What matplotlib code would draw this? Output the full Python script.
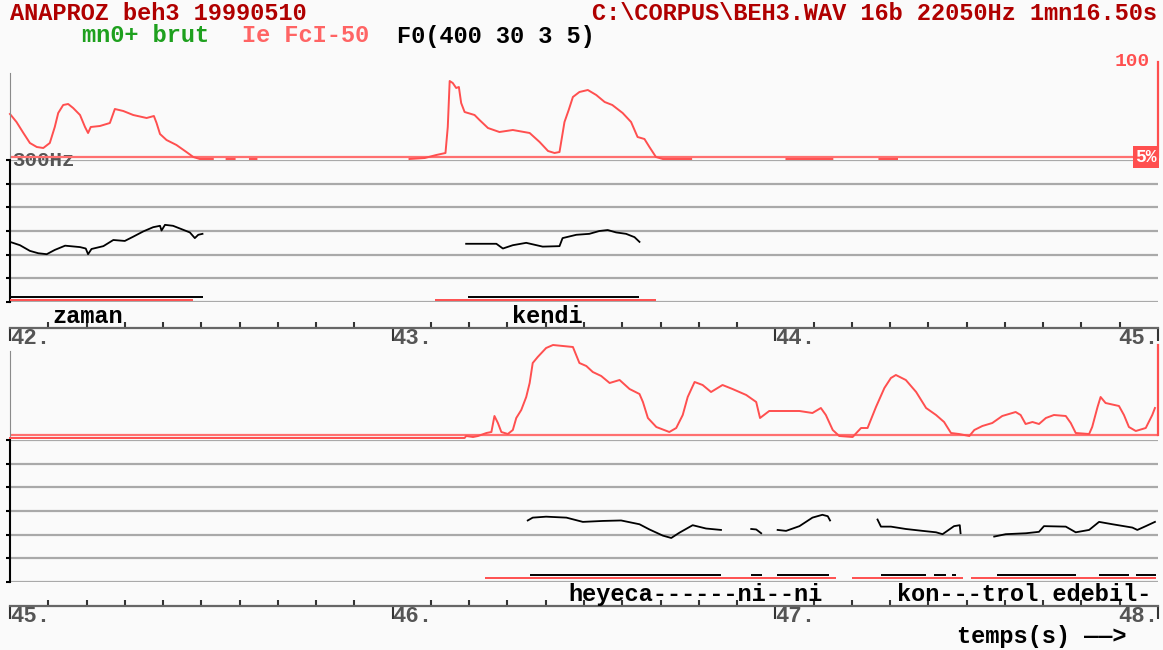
import numpy as np
import matplotlib.pyplot as plt
from matplotlib.transforms import blended_transform_factory
from matplotlib.ticker import MultipleLocator

W, H = 1163, 650
nan = np.nan

# ---- data ----
# intensity (%), strip 1 : 42-45 s
top_int_t = [42.000, 42.017, 42.035, 42.052, 42.070, 42.087, 42.104, 42.117, 42.126, 42.139,
             42.152, 42.165, 42.183, 42.196, 42.204, 42.211, 42.235, 42.261, 42.274, 42.296,
             42.322, 42.357, 42.376, 42.383, 42.392, 42.409, 42.435, 42.461, 42.479, 42.496,
             42.530, nan, 42.566, 42.587, nan, 42.627, 42.644, nan,
             43.044, 43.084, 43.114, 43.138, 43.144, 43.149, 43.157, 43.166, 43.173, 43.179,
             43.188, 43.214, 43.227, 43.249, 43.279, 43.314, 43.358, 43.384, 43.406, 43.423,
             43.436, 43.449, 43.460, 43.471, 43.488, 43.510, 43.532, 43.554, 43.574, 43.601,
             43.623, 43.640, 43.658, 43.671, 43.688, 43.706, 43.741, 43.780,
             nan, 44.029, 44.149, nan, 44.272, 44.318]
top_int_v = [48, 40, 29, 19, 15, 14, 19, 35, 49, 57,
             58, 54, 47, 35, 29, 35, 36, 39, 53, 51,
             47, 44, 46, 39, 28, 22, 17, 10, 5, 3,
             3, nan, 3, 3, nan, 3, 3, nan,
             3, 4, 7, 9, 35, 81, 79, 74, 75, 59,
             50, 47, 42, 34, 30, 32, 29, 20, 11, 9,
             10, 40, 52, 65, 70, 72, 67, 60, 57, 49,
             40, 25, 23, 15, 5, 3, 3, 3,
             nan, 3, 3, nan, 3, 3]

# F0 (Hz), strip 1
top_f0_t = [42.000, 42.026, 42.052, 42.074, 42.096, 42.117, 42.144, 42.183, 42.198, 42.204,
            42.213, 42.244, 42.270, 42.300, 42.322, 42.348, 42.374, 42.392, 42.396, 42.405,
            42.426, 42.448, 42.470, 42.483, 42.492, 42.503, nan,
            43.192, 43.271, 43.288, 43.314, 43.349, 43.392, 43.436, 43.444, 43.480, 43.514,
            43.540, 43.562, 43.584, 43.610, 43.632, 43.645]
top_f0_v = [127, 120, 108, 103, 101, 110, 119, 116, 113, 101,
            112, 118, 131, 129, 138, 149, 158, 161, 151, 163,
            161, 154, 147, 135, 142, 144, nan,
            123, 123, 113, 120, 125, 117, 118, 135, 142, 144,
            150, 152, 147, 144, 137, 127]

# intensity (%), strip 2 : 45-48 s
bot_int_t = [45.000, 46.188, 46.192, 46.210, 46.223, 46.245, 46.258, 46.266, 46.275, 46.284,
             46.301, 46.314, 46.323, 46.336, 46.349, 46.358, 46.366, 46.379, 46.401, 46.419,
             46.445, 46.471, 46.488, 46.506, 46.523, 46.545, 46.567, 46.593, 46.619, 46.645,
             46.654, 46.667, 46.689, 46.723, 46.741, 46.758, 46.771, 46.789, 46.810, 46.832,
             46.862, 46.888, 46.924, 46.950, 46.960, 46.984, 47.063, 47.097, 47.119, 47.132,
             47.150, 47.167, 47.202, 47.224, 47.241, 47.263, 47.285, 47.302, 47.315, 47.341,
             47.368, 47.394, 47.420, 47.441, 47.459, 47.480, 47.507, 47.520, 47.541, 47.567,
             47.593, 47.628, 47.641, 47.654, 47.672, 47.689, 47.707, 47.728, 47.759, 47.772,
             47.785, 47.820, 47.828, 47.842, 47.850, 47.863, 47.898, 47.911, 47.924, 47.942,
             47.968, 47.985, 47.992]
bot_int_v = [2, 2, 4, 3, 4, 7, 8, 24, 17, 8,
             6, 10, 22, 30, 43, 57, 77, 83, 92, 95,
             94, 93, 77, 74, 68, 64, 57, 60, 51, 46,
             38, 22, 13, 8, 12, 25, 43, 58, 55, 48,
             55, 51, 45, 38, 22, 29, 29, 27, 32, 25,
             10, 4, 3, 12, 12, 33, 52, 62, 65, 60,
             48, 32, 25, 18, 7, 6, 4, 10, 14, 17,
             24, 28, 25, 16, 18, 16, 22, 25, 24, 17,
             7, 6, 13, 33, 43, 37, 34, 25, 13, 9,
             12, 25, 32]

# F0 (Hz), strip 2
bot_f0_t = [46.353, 46.366, 46.401, 46.454, 46.497, 46.549, 46.597, 46.645, 46.671, 46.706,
            46.728, 46.749, 46.784, 46.819, 46.858, nan,
            46.937, 46.950, 46.963, nan,
            47.006, 47.028, 47.063, 47.080, 47.097, 47.123, 47.137, 47.143, nan,
            47.267, 47.276, 47.302, 47.341, 47.385, 47.420, 47.437, 47.467, 47.482, 47.484, nan,
            47.572, 47.602, 47.655, 47.689, 47.702, 47.759, 47.785, 47.820, 47.846, 47.881,
            47.933, 47.946, 47.968, 47.992]
bot_f0_v = [130, 136, 138, 136, 127, 129, 130, 122, 111, 98,
            93, 104, 120, 113, 110, nan,
            112, 111, 103, nan,
            110, 108, 118, 127, 136, 142, 139, 130, nan,
            132, 117, 117, 112, 108, 105, 101, 118, 120, 103, nan,
            96, 101, 103, 106, 118, 117, 105, 110, 127, 122,
            115, 110, 118, 127]

# segmentation tiers (start, end in s)
top_blk_start = [42.000, 43.198]
top_blk_end = [42.504, 43.645]
top_red_start = [42.000, 43.110]
top_red_end = [42.478, 43.687]
bot_blk_start = [46.358, 46.937, 47.005, 47.277, 47.415, 47.462, 47.580, 47.846, 47.943]
bot_blk_end = [46.859, 46.966, 47.141, 47.394, 47.446, 47.473, 47.786, 47.924, 47.995]
bot_red_start = [46.240, 47.201, 47.512]
bot_red_end = [47.159, 47.491, 47.995]

top_words = ['zaman', 'kendi']
top_word_t = [42.110, 43.311]
bot_words = ['heyeca------ni--ni', 'kon---trol edebil-']
bot_word_t = [46.460, 47.319]

f0_grid = [0, 50, 100, 150, 200, 250, 300]

# ---- style ----
plt.rcParams['font.family'] = ['Liberation Mono', 'DejaVu Sans Mono']
plt.rcParams['font.weight'] = 'bold'

BG = '#fafafa'
RED = '#ff4f4f'
DARKRED = '#b00000'
GREY = '#555555'

fig = plt.figure(figsize=(W / 100, H / 100), dpi=100, facecolor=BG)


def px(x0, y0, x1, y1):
    # pixel box (origin top-left) -> figure fraction
    return [x0 / W, 1 - y1 / H, (x1 - x0) / W, (y1 - y0) / H]


L, R = 10, 1158


def strip(t0, y_int, y_f0, y_axis, int_t, int_v, f0_t, f0_v,
          blk_s, blk_e, red_s, red_e, words, word_t, first):
    t1 = t0 + 3

    # F0 panel with grey grid
    ax_f = fig.add_axes(px(L, y_f0, R, y_f0 + 142))
    ax_f.set_facecolor('none')
    ax_f.set_xlim(t0, t1)
    ax_f.set_ylim(0, 300)
    ax_f.set_yticks(f0_grid)
    ax_f.set_xticks([])
    ax_f.yaxis.grid(True, color='#a9a9a9', lw=1.6)
    ax_f.tick_params(axis='y', length=3, width=1.5, labelleft=False, color='black')
    for s in ['top', 'right', 'bottom']:
        ax_f.spines[s].set_visible(False)
    ax_f.spines['left'].set_color('black')
    ax_f.spines['left'].set_linewidth(1.5)
    ax_f.plot(f0_t, f0_v, color='black', lw=1.3)
    if first:
        ax_f.text(0.002, 300, '300Hz', transform=blended_transform_factory(ax_f.transAxes, ax_f.transData),
                  ha='left', va='center', color=GREY, fontsize=15)

    # intensity panel (0..100 %)
    ax_i = fig.add_axes(px(L, y_int, R, y_int + 100))
    ax_i.set_facecolor('none')
    ax_i.set_xlim(t0, t1)
    ax_i.set_ylim(0, 100)
    ax_i.set_xticks([])
    ax_i.set_yticks([])
    ax_i.spines['top'].set_visible(False)
    ax_i.spines['bottom'].set_visible(False)
    ax_i.spines['left'].set_color('#8a8a8a')
    ax_i.spines['left'].set_bounds(4, 89)
    ax_i.spines['right'].set_color(RED)
    ax_i.spines['right'].set_linewidth(1.6)
    ax_i.spines['right'].set_bounds(5, 100 if first else 95)
    ax_i.axhline(5, color='#ff7070', lw=1.6)
    ax_i.plot(int_t, int_v, color=RED, lw=1.4, clip_on=False)
    tr = blended_transform_factory(ax_i.transAxes, ax_i.transData)
    if first:
        ax_i.text(0.993, 100, '100', transform=tr, ha='right', va='center', color=RED, fontsize=14)
        ax_i.text(0.999, 5, '5%', transform=tr, ha='right', va='center', color='white', fontsize=13,
                  bbox=dict(boxstyle='square,pad=0.12', fc=RED, ec='none'))

    # segmentation tier + time axis
    ax_t = fig.add_axes(px(L, y_axis - 38, R, y_axis))
    ax_t.set_facecolor('none')
    ax_t.set_xlim(t0, t1)
    ax_t.set_ylim(0, 1)
    ax_t.set_yticks([])
    for s in ['top', 'right', 'left']:
        ax_t.spines[s].set_visible(False)
    ax_t.spines['bottom'].set_color('#666666')
    ax_t.spines['bottom'].set_linewidth(1.6)
    ax_t.xaxis.set_major_locator(MultipleLocator(1))
    ax_t.xaxis.set_minor_locator(MultipleLocator(0.1))
    ax_t.tick_params(axis='x', which='major', direction='out', length=9, width=1.5,
                     color='#333333', labelbottom=False)
    ax_t.tick_params(axis='x', which='minor', direction='in', length=4, width=1.5, color='#333333')
    ax_t.hlines([0.82] * len(blk_s), blk_s, blk_e, color='black', lw=1.4)
    ax_t.hlines([0.75] * len(red_s), red_s, red_e, color=RED, lw=1.4)
    for w, t in zip(words, word_t):
        ax_t.text(t, 0.31, w, ha='left', va='center', color='black', fontsize=17)
    for t in range(int(t0), int(t1) + 1):
        ax_t.text(t, -0.27, f'{t}.', transform=ax_t.get_xaxis_transform(),
                  ha='right' if t == t1 else 'left', va='center', color=GREY, fontsize=16)


strip(42, 62, 160, 328, top_int_t, top_int_v, top_f0_t, top_f0_v,
      top_blk_start, top_blk_end, top_red_start, top_red_end, top_words, top_word_t, True)
strip(45, 340, 440, 606, bot_int_t, bot_int_v, bot_f0_t, bot_f0_v,
      bot_blk_start, bot_blk_end, bot_red_start, bot_red_end, bot_words, bot_word_t, False)

# header
fig.text(10 / W, 1 - 14 / H, 'ANAPROZ beh3 19990510', ha='left', va='center', color=DARKRED, fontsize=17)
fig.text(1157 / W, 1 - 14 / H, 'C:\\CORPUS\\BEH3.WAV 16b 22050Hz 1mn16.50s', ha='right', va='center',
         color=DARKRED, fontsize=17)
fig.text(82 / W, 1 - 36 / H, 'mn0+ brut', ha='left', va='center', color='#1ea01e', fontsize=17)
fig.text(242 / W, 1 - 36 / H, 'Ie FcI-50', ha='left', va='center', color='#ff6464', fontsize=17)
fig.text(397 / W, 1 - 36 / H, 'F0(400 30 3 5)', ha='left', va='center', color='black', fontsize=17)
fig.text(957 / W, 1 - 637 / H, 'temps(s) ——>', ha='left', va='center', color='black', fontsize=17)

fig.savefig('out.png', dpi=100, facecolor=BG)
